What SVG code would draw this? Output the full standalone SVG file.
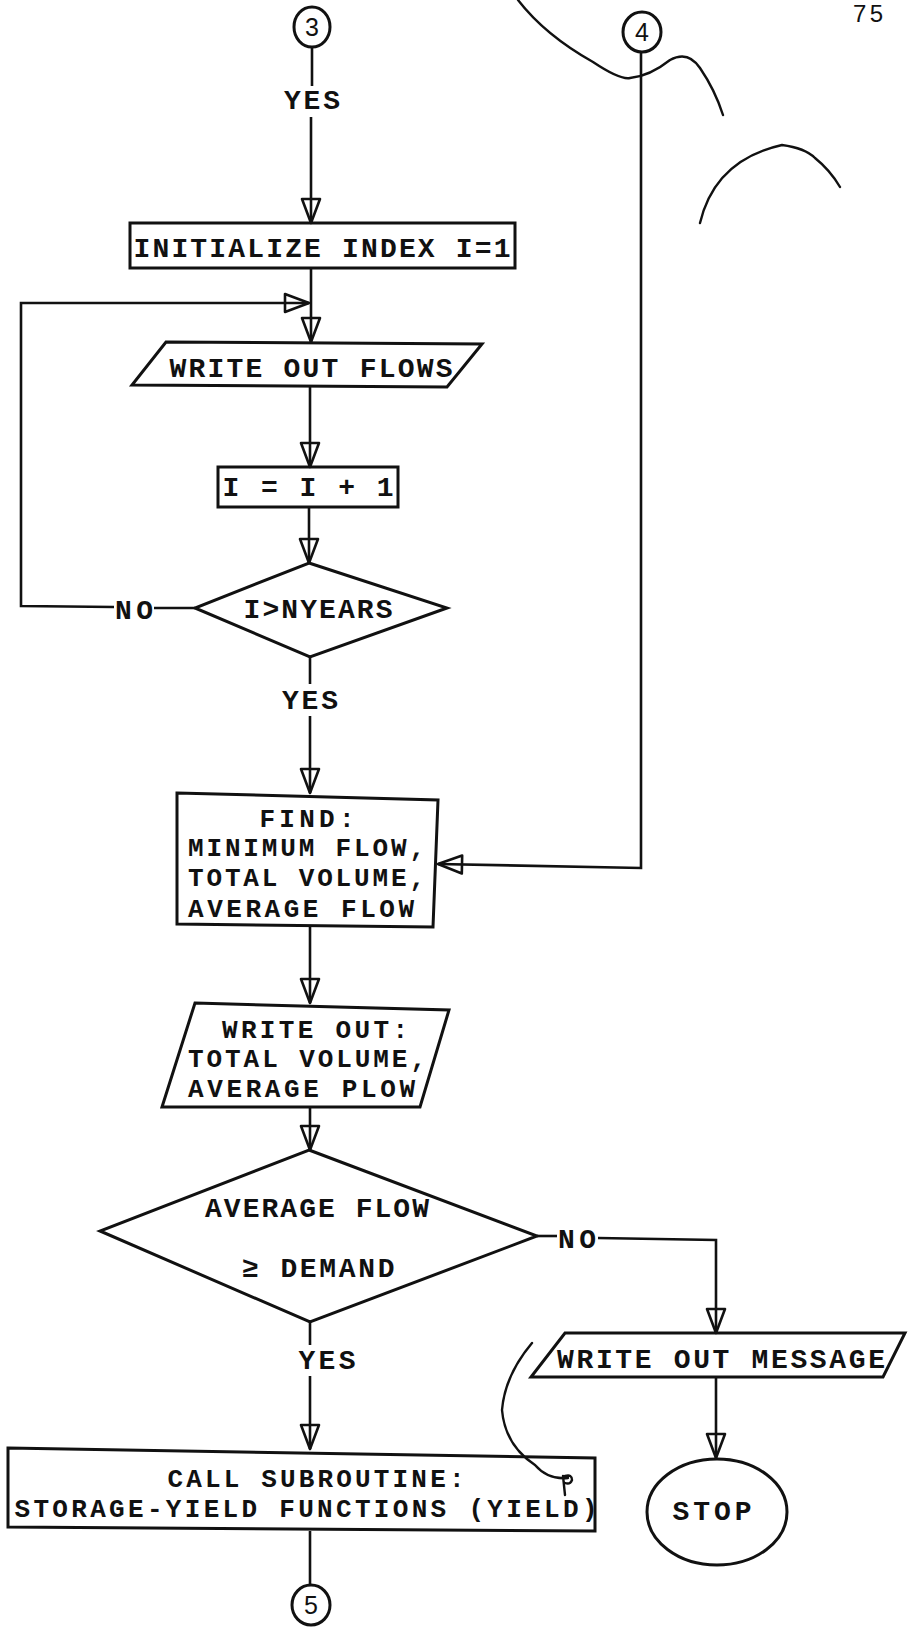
<svg xmlns="http://www.w3.org/2000/svg" width="915" height="1637" viewBox="0 0 915 1637">
<style>
.shape{fill:none;stroke:#111;stroke-width:3;stroke-linejoin:miter}
.ln{fill:none;stroke:#111;stroke-width:2.6}
.t{font-family:"Liberation Mono","Courier New",monospace;font-size:28px;font-weight:bold;fill:#111;text-anchor:middle}
.m{font-family:"Liberation Mono","Courier New",monospace;font-size:26px;font-weight:bold;fill:#111;text-anchor:middle}
.ms{font-family:"Liberation Mono","Courier New",monospace;font-size:26px;font-weight:bold;fill:#111;text-anchor:start}
.ts{font-family:"Liberation Mono","Courier New",monospace;font-size:28px;font-weight:bold;fill:#111;text-anchor:start}
.c{font-family:"Liberation Sans",Arial,sans-serif;font-size:25px;fill:#111;text-anchor:middle}
.mark{fill:none;stroke:#111;stroke-width:2.4;stroke-linecap:round}
</style>
<defs>
<marker id="arr" viewBox="-26 -12 28 24" refX="0" refY="0" markerWidth="28" markerHeight="24" orient="auto" markerUnits="userSpaceOnUse">
<path d="M0,0 L-24,-9 L-24,9 Z" fill="none" stroke="#111" stroke-width="2.6" stroke-linejoin="round"/>
</marker>
</defs>
<rect width="915" height="1637" fill="#fff"/>

<text x="868" y="22" font-family="Liberation Sans,Arial,sans-serif" font-size="24" text-anchor="middle" fill="#111" textLength="30">75</text>

<g id="marks">
<path class="mark" d="M518,0 Q545,35 593,62 Q620,80 630,78 Q650,76 670,60 Q688,50 700,68 Q715,90 723,115"/>
<path class="mark" d="M700,223 Q715,160 782,145 Q805,148 815,158 Q830,170 840,187"/>
<path class="mark" stroke-width="1.8" d="M532,1343 Q505,1375 502,1410 Q505,1445 535,1465 Q548,1480 568,1478 M563,1476 L565,1495 M565,1476 q7,-2 7,4 q-2,5 -7,3"/>
</g>

<g id="connectors">
<line class="ln" x1="312" y1="46" x2="312" y2="86"/>
<text class="t" x="312" y="109" textLength="56">YES</text>
<line class="ln" x1="311" y1="117" x2="311" y2="223" marker-end="url(#arr)"/>
<line class="ln" x1="311" y1="268" x2="311" y2="342" marker-end="url(#arr)"/>
<line class="ln" x1="310" y1="386" x2="310" y2="467" marker-end="url(#arr)"/>
<line class="ln" x1="309" y1="507" x2="309" y2="563" marker-end="url(#arr)"/>
<line class="ln" x1="195" y1="608" x2="154" y2="608"/>
<text class="t" x="134" y="619" textLength="38">NO</text>
<path class="ln" d="M114,607 L21,606 L21,303 L309,303" marker-end="url(#arr)"/>
<line class="ln" x1="310" y1="657" x2="310" y2="684"/>
<text class="t" x="310" y="709" textLength="56">YES</text>
<line class="ln" x1="310" y1="716" x2="310" y2="793" marker-end="url(#arr)"/>
<path class="ln" d="M641,52 L641,868 L438,864" marker-end="url(#arr)"/>
<line class="ln" x1="310" y1="926" x2="310" y2="1003" marker-end="url(#arr)"/>
<line class="ln" x1="310" y1="1107" x2="310" y2="1150" marker-end="url(#arr)"/>
<line class="ln" x1="537" y1="1236" x2="557" y2="1236"/>
<text class="ts" x="558" y="1248" textLength="38">NO</text>
<path class="ln" d="M598,1238 L716,1240 L716,1333" marker-end="url(#arr)"/>
<line class="ln" x1="716" y1="1377" x2="716" y2="1458" marker-end="url(#arr)"/>
<line class="ln" x1="310" y1="1322" x2="310" y2="1345"/>
<text class="t" x="327" y="1369" textLength="57">YES</text>
<line class="ln" x1="310" y1="1376" x2="310" y2="1449" marker-end="url(#arr)"/>
<line class="ln" x1="310" y1="1531" x2="310" y2="1586"/>
</g>

<g id="node-c3">
<ellipse class="shape" cx="312" cy="27" rx="18" ry="20"/>
<text class="c" x="312" y="36">3</text>
</g>
<g id="node-c4">
<ellipse class="shape" cx="642" cy="32" rx="19" ry="20"/>
<text class="c" x="642" y="41">4</text>
</g>
<g id="node-init">
<rect class="shape" x="130" y="223" width="385" height="45"/>
<text class="t" x="322" y="257" textLength="377">INITIALIZE INDEX I=1</text>
</g>
<g id="node-wof">
<polygon class="shape" points="166,342 482,344 447,387 132,385"/>
<text class="t" x="311" y="377" textLength="283">WRITE OUT FLOWS</text>
</g>
<g id="node-inc">
<rect class="shape" x="218" y="467" width="180" height="40"/>
<text class="t" x="308" y="496" textLength="171" xml:space="preserve">I = I + 1</text>
</g>
<g id="node-d1">
<polygon class="shape" points="309,563 447,608 310,657 195,608"/>
<text class="t" x="318" y="618" textLength="149">I&gt;NYEARS</text>
</g>
<g id="node-find">
<polygon class="shape" points="177,793 438,800 433,927 177,924"/>
<text class="m" x="307" y="827" textLength="95">FIND:</text>
<text class="ms" x="188" y="856" textLength="237">MINIMUM FLOW,</text>
<text class="ms" x="188" y="886" textLength="237">TOTAL VOLUME,</text>
<text class="ms" x="188" y="917" textLength="226">AVERAGE FLOW</text>
</g>
<g id="node-wo">
<polygon class="shape" points="195,1003 449,1010 420,1107 162,1107"/>
<text class="m" x="315" y="1038" textLength="186">WRITE OUT:</text>
<text class="ms" x="188" y="1067" textLength="238">TOTAL VOLUME,</text>
<text class="ms" x="188" y="1097" textLength="227">AVERAGE PLOW</text>
</g>
<g id="node-d2">
<polygon class="shape" points="309,1150 537,1236 310,1322 100,1231"/>
<text class="t" x="317" y="1217" textLength="224">AVERAGE FLOW</text>
<text class="t" x="318" y="1277" textLength="153">≥ DEMAND</text>
</g>
<g id="node-msg">
<polygon class="shape" points="565,1333 905,1333 883,1377 531,1377"/>
<text class="t" x="721" y="1368" textLength="328">WRITE OUT MESSAGE</text>
</g>
<g id="node-stop">
<ellipse class="shape" cx="717" cy="1512" rx="70" ry="53"/>
<text class="t" x="712" y="1520" textLength="79">STOP</text>
</g>
<g id="node-call">
<polygon class="shape" points="8,1448 595,1458 595,1531 8,1527"/>
<text class="m" x="316" y="1487" textLength="297">CALL SUBROUTINE:</text>
<text class="m" x="306" y="1517" textLength="583">STORAGE-YIELD FUNCTIONS (YIELD)</text>
</g>
<g id="node-c5">
<ellipse class="shape" cx="311" cy="1605" rx="19" ry="20"/>
<text class="c" x="311" y="1614">5</text>
</g>
</svg>
